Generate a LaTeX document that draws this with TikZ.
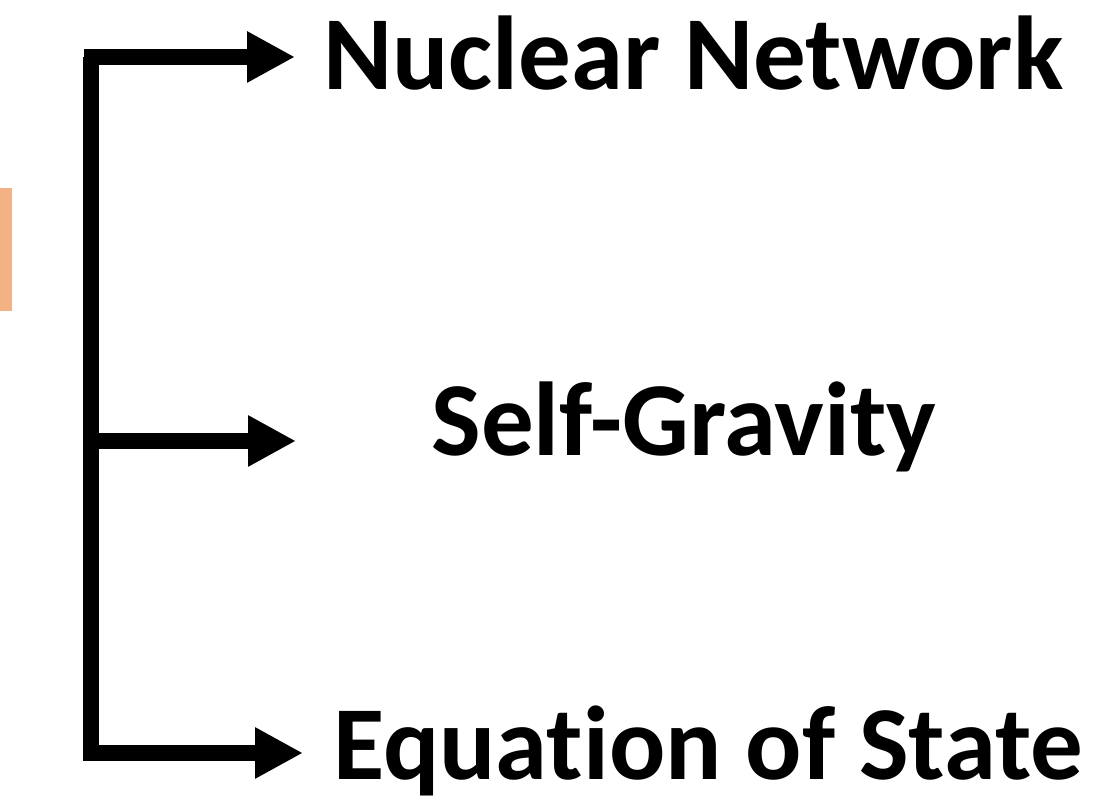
\documentclass[tikz,border=0pt]{standalone}
\usepackage{fontspec}
\setmainfont{Carlito}[Ligatures={NoCommon,NoRequired,NoContextual}]
\usetikzlibrary{arrows.meta,positioning}
\definecolor{sketchorange}{HTML}{F4B183}

\begin{document}
\begin{tikzpicture}[x=0.5pt, y=0.5pt,
    trunk/.style={line width=8pt},
    branch/.style={-{Triangle[length=24pt, width=24pt]}, line width=8pt},
    physbox/.style={anchor=base west, inner sep=0pt, font=\fontsize{52.5}{62}\selectfont\bfseries},
]
    \useasboundingbox (0,0) rectangle (1108,806);
    \fill[sketchorange] (0,495) rectangle (12,618);

    % points on the trunk and arrow ends
    \coordinate (top) at (91,749);
    \coordinate (mid) at (91,365);
    \coordinate (bot) at (91,53);
    \coordinate (nucend) at (295,749);
    \coordinate (gravend) at (296,365);
    \coordinate (eosend) at (303,53);

    \node[physbox] (nuc) at (323,716) {Nuclear Network};
    \node[physbox] (grav) at (431,350) {Self-Gravity};
    \node[physbox] (eos) at (333,26) {Equation of State};

    \draw[trunk] (top) -- ([yshift=-4pt]bot);
    \draw[branch] ([xshift=-3.5pt]top) -- (nucend);
    \draw[branch] (mid) -- (gravend);
    \draw[branch] ([xshift=-4pt]bot) -- (eosend);
\end{tikzpicture}
\end{document}
